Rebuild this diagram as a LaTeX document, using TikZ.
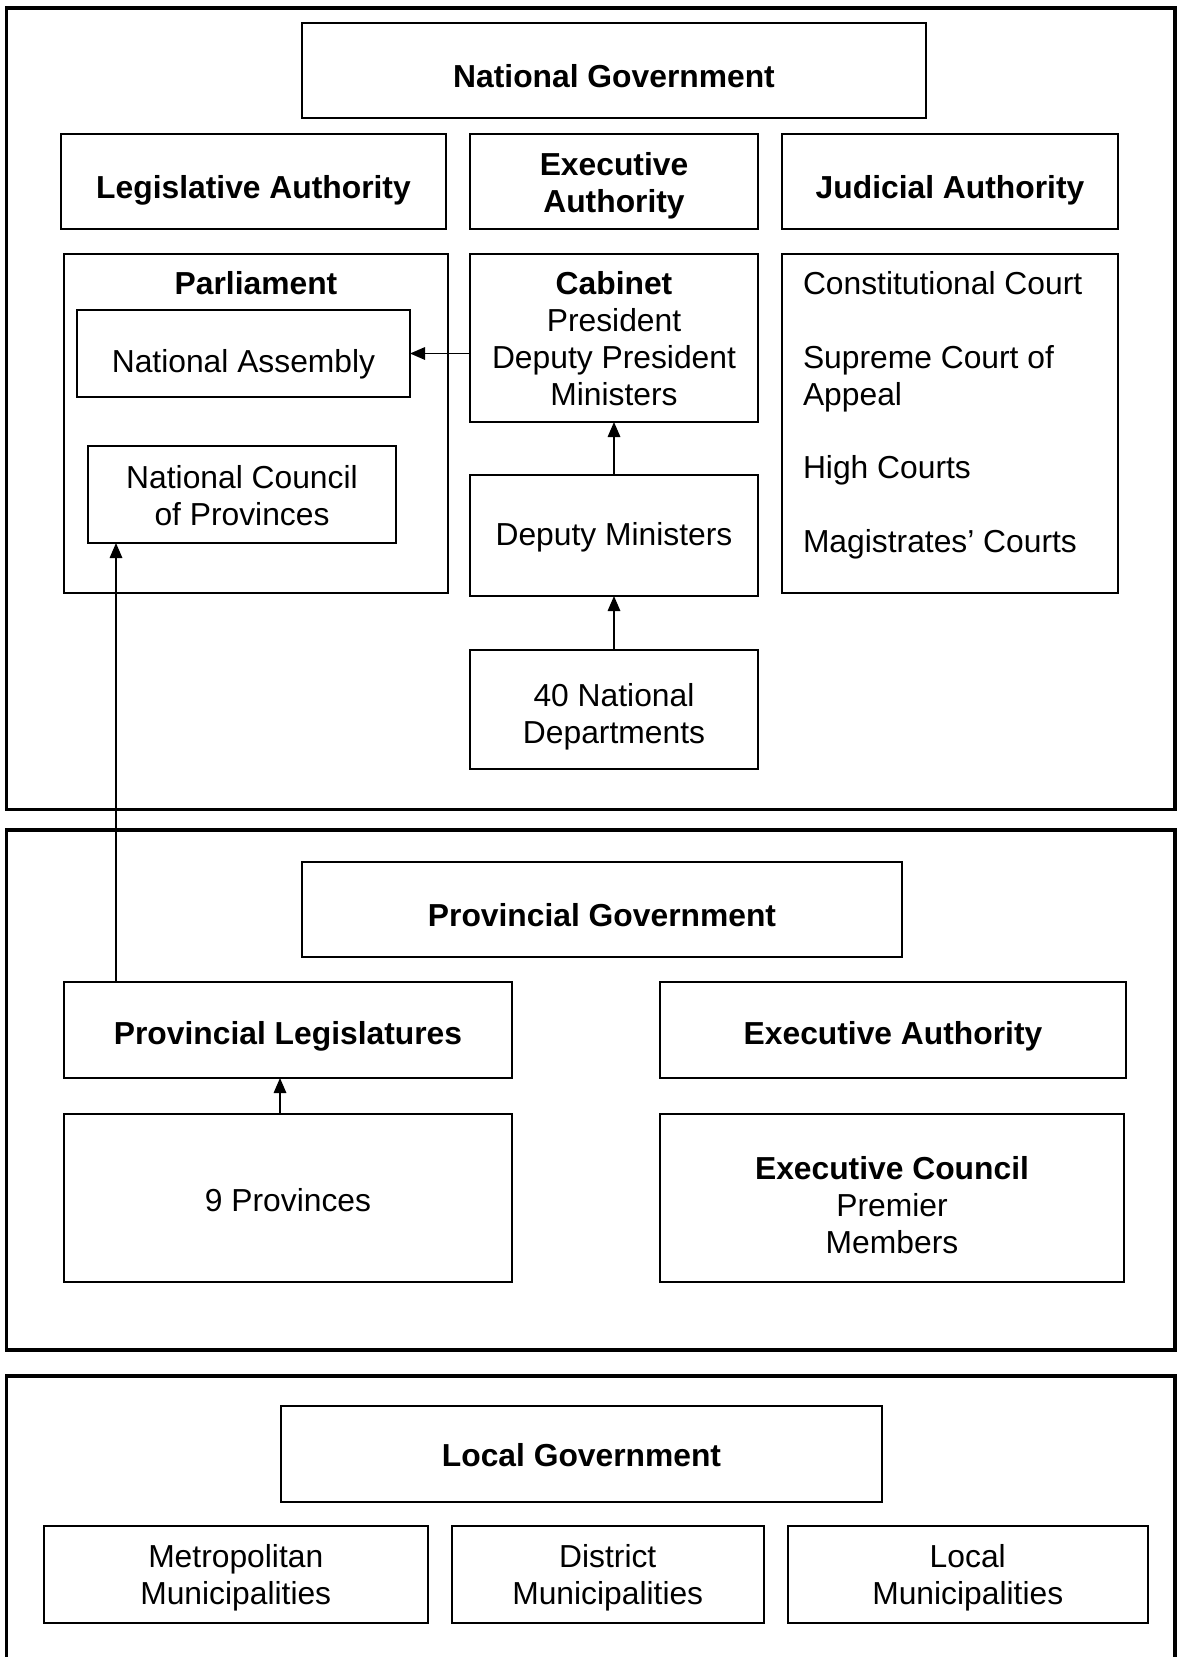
\documentclass[tikz,border=0pt]{standalone}
\usepackage{fontspec}
\setmainfont{Liberation Sans}
\usetikzlibrary{arrows.meta}
\begin{document}
\begin{tikzpicture}[x=1pt,y=-1pt,
  every node/.style={font=\fontsize{31.8}{37}\selectfont, inner sep=0pt, outer sep=0pt},
  box/.style={draw, line width=2pt},
  thinbox/.style={draw, line width=1.3pt},
  txt/.style={align=center},
  frame/.style={draw, line width=3.6pt},
  conn/.style={line width=1.6pt, -{Triangle[length=15pt,width=12.5pt]}},
  bx/.style 2 args={minimum width=#1, minimum height=#2}
]
\useasboundingbox (0,0) rectangle (1176,1657);
% frames
\draw[frame] (6.5,7.7) rectangle (1175,809.5);
\draw[frame] (6.5,830) rectangle (1175,1350);
\draw[frame] (6.5,1376) rectangle (1175,1690);

% national
\node[box, bx={624pt}{95pt}] (natgov) at (614,70.5) {};
\node[txt] (natgov-t) at ([yshift=-5.3pt]natgov.center) {\bfseries National Government};
\node[box, bx={385pt}{95pt}] (legauth) at (253.5,181.5) {};
\node[txt] (legauth-t) at ([yshift=-8.5pt]legauth.center) {\bfseries Legislative Authority};
\node[box, bx={288pt}{95pt}] (execauth) at (614,181.5) {};
\node[txt] (execauth-t) at ([yshift=-4.2pt]execauth.center) {\bfseries Executive\\\bfseries Authority};
\node[box, bx={336pt}{95pt}] (judauth) at (950,181.5) {};
\node[txt] (judauth-t) at ([yshift=-8.5pt]judauth.center) {\bfseries Judicial Authority};

\node[thinbox, bx={384pt}{339pt}] (parl) at (256,423.5) {};
\node[txt] (parltitle) at (256,283) {\bfseries Parliament};
\node[thinbox, bx={333pt}{87pt}] (na) at (243.5,353.5) {};
\node[txt] (na-t) at ([yshift=-10.6pt]na.center) {National Assembly};
\node[thinbox, bx={308pt}{97pt}] (ncop) at (242,494.5) {};
\node[txt] (ncop-t) at ([yshift=-1pt]ncop.center) {National Council\\of Provinces};

\node[box, bx={288pt}{168pt}] (cabinet) at (614,338) {};
\node[txt] (cabinet-t) at ([yshift=-1pt]cabinet.center) {\bfseries Cabinet\\President\\Deputy President\\Ministers};
\node[box, bx={288pt}{121pt}] (depmin) at (614,535.5) {};
\node[txt] (depmin-t) at ([yshift=-2pt]depmin.center) {Deputy Ministers};
\node[box, bx={288pt}{119pt}] (natdep) at (614,709.5) {};
\node[txt] (natdep-t) at ([yshift=-7.4pt]natdep.center) {40 National\\Departments};

\node[box, bx={336pt}{339pt}] (courts) at (950,423.5) {};
\node[anchor=west] (cc) at (803,283) {Constitutional Court};
\node[anchor=west, align=left] (sca) at (803,379) {Supreme Court of\\Appeal};
\node[anchor=west] (hc) at (803,470) {High Courts};
\node[anchor=west] (mc) at (803,544) {Magistrates’ Courts};

% provincial
\node[box, bx={600pt}{95pt}] (provgov) at (602,909.5) {};
\node[txt] (provgov-t) at ([yshift=-5.3pt]provgov.center) {\bfseries Provincial Government};
\node[box, bx={448pt}{96pt}] (provleg) at (288,1030) {};
\node[txt] (provleg-t) at ([yshift=-6.3pt]provleg.center) {\bfseries Provincial Legislatures};
\node[box, bx={466pt}{96pt}] (provexec) at (893,1030) {};
\node[txt] (provexec-t) at ([yshift=-6.3pt]provexec.center) {\bfseries Executive Authority};
\node[box, bx={448pt}{168pt}] (nineprov) at (288,1198) {};
\node[txt] (nineprov-t) at ([yshift=-2pt]nineprov.center) {9 Provinces};
\node[box, bx={464pt}{168pt}] (execcouncil) at (892,1198) {};
\node[txt] (execcouncil-t) at ([yshift=-7.4pt]execcouncil.center) {\bfseries Executive Council\\Premier\\Members};

% local
\node[box, bx={601pt}{96pt}] (localgov) at (581.5,1454) {};
\node[txt] (localgov-t) at ([yshift=-1pt]localgov.center) {\bfseries Local Government};
\node[box, bx={384.5pt}{97pt}] (metro) at (235.75,1574.5) {};
\node[txt] (metro-t) at ([yshift=-3.2pt]metro.center) {Metropolitan\\Municipalities};
\node[box, bx={312.5pt}{97pt}] (district) at (607.75,1574.5) {};
\node[txt] (district-t) at ([yshift=-3.2pt]district.center) {District\\Municipalities};
\node[box, bx={360.5pt}{97pt}] (localmun) at (967.75,1574.5) {};
\node[txt] (localmun-t) at ([yshift=-3.2pt]localmun.center) {Local\\Municipalities};

% connectors
\draw[conn] (na.east -| cabinet.west) -- (na.east);
\draw[conn] (depmin.north) -- (cabinet.south);
\draw[conn] (natdep.north) -- (depmin.south);
\draw[conn] ([xshift=-8pt]nineprov.north) -- ([xshift=-8pt]provleg.south);
\draw[conn] ([xshift=52pt]provleg.north west) -- ([xshift=28pt]ncop.south west);
\end{tikzpicture}
\end{document}
